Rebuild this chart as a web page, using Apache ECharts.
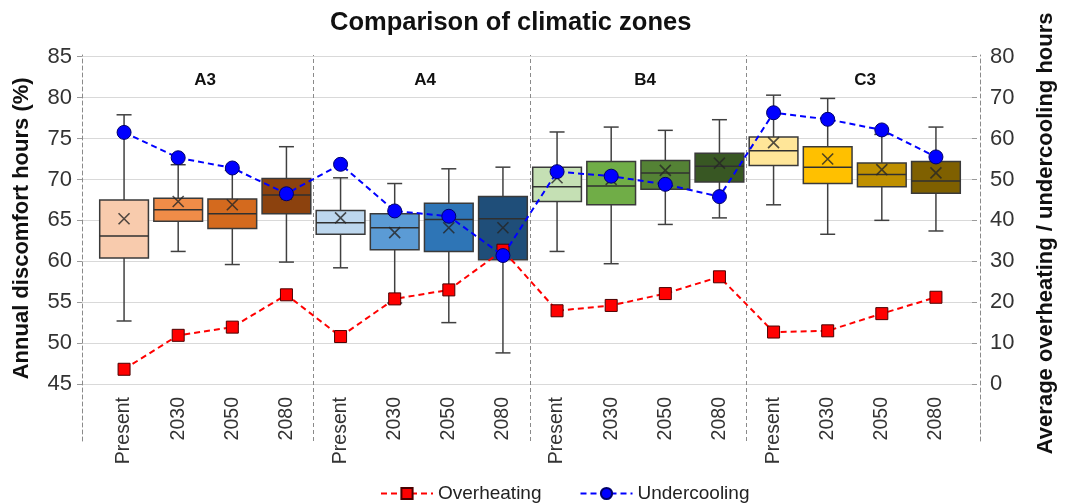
<!DOCTYPE html>
<html><head><meta charset="utf-8">
<script src="https://cdn.jsdelivr.net/npm/echarts@6/dist/echarts.min.js"></script>
<style>html,body{margin:0;padding:0;background:#fff}#c{width:1065px;height:503px}</style>
</head><body><div id="c"></div>
<script>
// ---------------- data ----------------
const zones = ['A3', 'A4', 'B4', 'C3'];
const periods = ['Present', '2030', '2050', '2080'];
// box statistics, annual discomfort hours (%), order: A3 x4, A4 x4, B4 x4, C3 x4
const whiskerHigh = [77.9, 71.8, 71.1, 74.0,  70.2, 69.5, 71.3, 71.5,  75.8, 76.4, 76.0, 77.3,  80.3, 79.9, 75.5, 76.4];
const quartile3   = [67.5, 67.7, 67.6, 70.1,  66.2, 65.8, 67.1, 67.9,  71.5, 72.2, 72.3, 73.2,  75.2, 74.0, 72.0, 72.2];
const median      = [63.1, 66.3, 65.8, 68.1,  64.7, 64.1, 65.1, 65.2,  69.1, 69.2, 70.8, 71.6,  73.5, 71.5, 70.6, 69.8];
const quartile1   = [60.4, 64.9, 64.0, 65.8,  63.3, 61.4, 61.2, 60.2,  67.3, 66.9, 68.8, 69.7,  71.7, 69.5, 69.1, 68.3];
const whiskerLow  = [52.7, 61.2, 59.6, 59.9,  59.2, 54.9, 52.5, 48.8,  61.2, 59.7, 64.5, 65.3,  66.9, 63.3, 65.0, 63.7];
const mean        = [65.2, 67.3, 66.9, 68.2,  65.3, 63.5, 64.1, 64.1,  70.2, 70.0, 71.1, 72.0,  74.5, 72.5, 71.2, 70.8];
// average overheating / undercooling hours (right axis)
const overheating  = [3.6, 11.9, 13.9, 21.8,  11.6, 20.8, 23.0, 32.7,  17.9, 19.2, 22.1, 26.2,  12.7, 13.0, 17.2, 21.2];
const undercooling = [61.5, 55.3, 52.8, 46.5,  53.7, 42.3, 41.0, 31.4,  51.9, 50.8, 48.8, 45.8,  66.3, 64.7, 62.1, 55.5];
const boxColors = ['#F8CBAD', '#F08C48', '#D46A1E', '#8C420E',
                   '#BDD7EE', '#5B9BD5', '#2E75B6', '#1F4E79',
                   '#C5E0B4', '#70AD47', '#548235', '#385723',
                   '#FFE699', '#FFC000', '#BF9000', '#7F6000'];
const leftTicks = {min: 45, max: 85, interval: 5};
const rightTicks = {min: 0, max: 80, interval: 10};

// ---------------- layout ----------------
const FONT = "'Liberation Sans', Arial, sans-serif";
const W = 1065, H = 503;
const plotL = 82, plotR = 980, catL = 97, catR = 963;
const plotT = 56.7, plotB = 384, sepT = 55, sepB = 441;
const nCat = zones.length * periods.length;
const band = (catR - catL) / nCat;
const xMin = -0.5 - (catL - plotL) / band;
const xMax = nCat - 0.5 + (plotR - catR) / band;

const categoryKeys = [];
zones.forEach(z => periods.forEach(p => categoryKeys.push(z + '|' + p)));
const boxData = categoryKeys.map((k, i) => [i, whiskerLow[i], quartile1[i], median[i], quartile3[i], whiskerHigh[i]]);
const meanData = mean.map((v, i) => [i, v]);
const separators = zones.slice(1).map((z, j) => ({xAxis: (j + 1) * periods.length - 0.5}));

function renderBox(params, api) {
  const i = api.value(0);
  const lo = api.coord([i, api.value(1)]);
  const b1 = api.coord([i, api.value(2)]);
  const md = api.coord([i, api.value(3)]);
  const b3 = api.coord([i, api.value(4)]);
  const hi = api.coord([i, api.value(5)]);
  const bw = api.size([1, 0])[0];
  const half = bw * 0.45, cap = 7.5, x = lo[0];
  const st = {stroke: '#404040', lineWidth: 1.5};
  return {type: 'group', children: [
    {type: 'line', shape: {x1: x, y1: hi[1], x2: x, y2: b3[1]}, style: st},
    {type: 'line', shape: {x1: x, y1: b1[1], x2: x, y2: lo[1]}, style: st},
    {type: 'line', shape: {x1: x - cap, y1: hi[1], x2: x + cap, y2: hi[1]}, style: st},
    {type: 'line', shape: {x1: x - cap, y1: lo[1], x2: x + cap, y2: lo[1]}, style: st},
    {type: 'rect', shape: {x: x - half, y: b3[1], width: 2 * half, height: b1[1] - b3[1]},
      style: {fill: boxColors[i], stroke: '#3a3a3a', lineWidth: 1.5}},
    {type: 'line', shape: {x1: x - half, y1: md[1], x2: x + half, y2: md[1]}, style: {stroke: '#303030', lineWidth: 1.5}}
  ]};
}

const option = {
  backgroundColor: '#fff',
  animation: false,
  textStyle: {fontFamily: FONT},
  title: {text: 'Comparison of climatic zones', left: 325, top: 5,
    textStyle: {fontFamily: FONT, fontSize: 25.5, fontWeight: 'bold', color: '#111'}},
  legend: {data: ['Overheating', 'Undercooling'], left: 375, top: 479, itemWidth: 52, itemHeight: 14, itemGap: 38,
    textStyle: {fontFamily: FONT, fontSize: 19, color: '#222'}},
  grid: [
    {left: plotL, right: W - plotR, top: sepT, bottom: H - sepB},
    {left: plotL, right: W - plotR, top: plotT, bottom: H - plotB},
    {left: catL, right: W - catR, top: plotT, bottom: H - plotB},
    {left: 95, right: 90, top: plotT, bottom: H - plotB}
  ],
  xAxis: [
    {gridIndex: 0, type: 'value', min: xMin, max: xMax, show: false},
    {gridIndex: 1, type: 'value', min: 0, max: 1, show: false},
    {gridIndex: 2, type: 'category', data: categoryKeys, boundaryGap: true,
      axisLine: {show: false, onZero: false}, axisTick: {show: false}, splitLine: {show: false},
      axisLabel: {interval: 0, rotate: 90, margin: 13, fontFamily: FONT, fontSize: 19.5, color: '#333',
        formatter: v => v.split('|')[1]}},
    {gridIndex: 3, type: 'category', position: 'top', data: zones,
      axisLine: {show: false, onZero: false}, axisTick: {show: false}, splitLine: {show: false},
      axisLabel: {inside: true, margin: 15, fontFamily: FONT, fontSize: 17, fontWeight: 'bold', color: '#111'}}
  ],
  yAxis: [
    {gridIndex: 0, type: 'value', min: 0, max: 1, position: 'left',
      axisLine: {show: true, onZero: false, lineStyle: {color: '#8a8a8a', type: [4, 3], width: 1}},
      axisTick: {show: false}, axisLabel: {show: false}, splitLine: {show: false}},
    {gridIndex: 0, type: 'value', min: 0, max: 1, position: 'right',
      axisLine: {show: true, onZero: false, lineStyle: {color: '#8a8a8a', type: [4, 3], width: 1}},
      axisTick: {show: false}, axisLabel: {show: false}, splitLine: {show: false}},
    {gridIndex: 1, type: 'value', position: 'left', min: leftTicks.min, max: leftTicks.max, interval: leftTicks.interval,
      name: 'Annual discomfort hours (%)', nameLocation: 'middle', nameGap: 49, nameRotate: 90,
      nameTextStyle: {fontFamily: FONT, fontSize: 22, fontWeight: 'bold', color: '#111', padding: [0, 16, 0, 0]},
      axisLine: {show: false, onZero: false},
      axisTick: {show: true, length: 5, lineStyle: {color: '#9a9a9a'}},
      axisLabel: {margin: 10, fontFamily: FONT, fontSize: 22, color: '#333'},
      splitLine: {show: true, lineStyle: {color: '#d9d9d9', width: 1}}},
    {gridIndex: 1, type: 'value', position: 'right', min: rightTicks.min, max: rightTicks.max, interval: rightTicks.interval,
      name: 'Average overheating / undercooling hours', nameLocation: 'middle', nameGap: 63, nameRotate: 90,
      nameTextStyle: {fontFamily: FONT, fontSize: 22, fontWeight: 'bold', color: '#111', padding: [0, 26, 0, 0]},
      axisLine: {show: false, onZero: false},
      axisTick: {show: true, length: 5, lineStyle: {color: '#9a9a9a'}},
      axisLabel: {margin: 18, fontFamily: FONT, fontSize: 22, color: '#333'},
      splitLine: {show: false}},
    {gridIndex: 2, type: 'value', min: leftTicks.min, max: leftTicks.max, show: false},
    {gridIndex: 2, type: 'value', min: rightTicks.min, max: rightTicks.max, show: false},
    {gridIndex: 3, type: 'value', min: 0, max: 1, show: false}
  ],
  series: [
    {type: 'line', xAxisIndex: 0, yAxisIndex: 0, data: [], silent: true,
      markLine: {silent: true, symbol: ['none', 'none'], label: {show: false},
        lineStyle: {color: '#8a8a8a', type: [4, 3], width: 1}, data: separators}},
    {type: 'custom', name: 'box', xAxisIndex: 2, yAxisIndex: 4, renderItem: renderBox,
      encode: {x: 0, y: [1, 2, 3, 4, 5]}, data: boxData, z: 2, silent: true},
    {type: 'scatter', name: 'mean', xAxisIndex: 2, yAxisIndex: 4, data: meanData, z: 3, silent: true,
      symbol: 'path://M0,0L10,10M10,0L0,10', symbolSize: 11,
      itemStyle: {color: 'rgba(0,0,0,0)', borderColor: '#262626', borderWidth: 1.6}},
    {type: 'line', name: 'Overheating', xAxisIndex: 2, yAxisIndex: 5, data: overheating, z: 5,
      symbol: 'rect', symbolSize: 12,
      lineStyle: {color: '#FF0000', type: [6, 4], width: 2},
      itemStyle: {color: '#FF0000', borderColor: '#4a0000', borderWidth: 1}},
    {type: 'line', name: 'Undercooling', xAxisIndex: 2, yAxisIndex: 5, data: undercooling, z: 6,
      symbol: 'circle', symbolSize: 14,
      lineStyle: {color: '#0000FF', type: [6, 4], width: 2},
      itemStyle: {color: '#0000FF', borderColor: '#00006a', borderWidth: 1}}
  ]
};
const chart = echarts.init(document.getElementById('c'), null, {renderer: 'canvas'});
chart.setOption(option);
</script>
</body></html>
